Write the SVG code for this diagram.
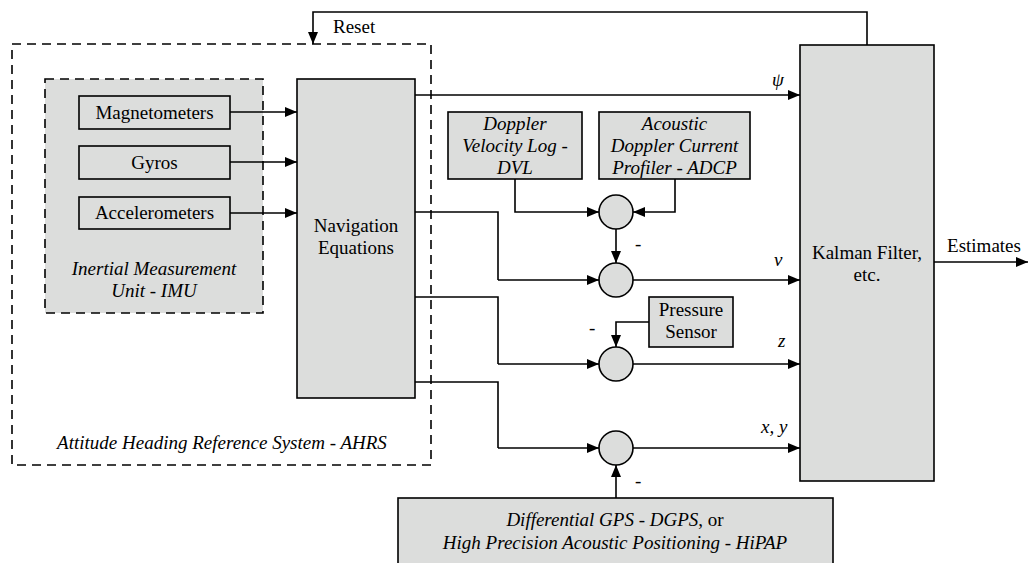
<svg xmlns="http://www.w3.org/2000/svg" width="1028" height="563" viewBox="0 0 1028 563" font-family="'Liberation Serif', Tinos, 'Times New Roman', Times, 'Nimbus Roman', 'DejaVu Serif', serif">
  <defs>
    <marker id="arr" viewBox="0 0 12 10" refX="12" refY="5" markerWidth="12" markerHeight="10" markerUnits="userSpaceOnUse" orient="auto">
      <path d="M0,0 L12,5 L0,10 Z" fill="#000"/>
    </marker>
    <style>
      .box { fill: #dcdddc; stroke: #000; stroke-width: 1.6; }
      .dash { stroke: #000; stroke-width: 1.6; stroke-dasharray: 9 6; }
      .sum { fill: #dcdddc; stroke: #000; stroke-width: 1.6; }
      .ln { fill: none; stroke: #000; stroke-width: 1.6; }
      .ar { fill: none; stroke: #000; stroke-width: 1.6; marker-end: url(#arr); }
      text { font-size: 19px; fill: #000; }
      .c { text-anchor: middle; }
      .i { font-style: italic; }
    </style>
  </defs>

  <rect width="1028" height="563" fill="#fff"/>

  <!-- AHRS frame -->
  <g id="ahrs">
    <rect class="dash" x="12" y="44" width="419" height="421" fill="none"/>
    <text class="c i" x="222" y="449">Attitude Heading Reference System - AHRS</text>
  </g>

  <!-- IMU frame -->
  <g id="imu">
    <rect class="dash" x="45" y="79" width="218" height="234" fill="#dcdddc"/>
    <text class="c i" x="154" y="275">Inertial Measurement</text>
    <text class="c i" x="154" y="297">Unit - IMU</text>
  </g>

  <g id="magnetometers">
    <rect class="box" x="79" y="96" width="151" height="33"/>
    <text class="c" x="154.5" y="119">Magnetometers</text>
  </g>
  <g id="gyros">
    <rect class="box" x="79" y="146" width="151" height="33"/>
    <text class="c" x="154.5" y="169">Gyros</text>
  </g>
  <g id="accelerometers">
    <rect class="box" x="79" y="197" width="151" height="32"/>
    <text class="c" x="154.5" y="219">Accelerometers</text>
  </g>

  <g id="navigation">
    <rect class="box" x="297" y="79" width="118" height="319"/>
    <text class="c" x="356" y="232">Navigation</text>
    <text class="c" x="356" y="254">Equations</text>
  </g>

  <g id="dvl">
    <rect class="box" x="448" y="112" width="134" height="67"/>
    <text class="c i" x="515" y="130">Doppler</text>
    <text class="c i" x="515" y="152">Velocity Log -</text>
    <text class="c i" x="515" y="174">DVL</text>
  </g>
  <g id="adcp">
    <rect class="box" x="599" y="112" width="151" height="67"/>
    <text class="c i" x="674.5" y="130">Acoustic</text>
    <text class="c i" x="674.5" y="152">Doppler Current</text>
    <text class="c i" x="674.5" y="174">Profiler - ADCP</text>
  </g>

  <g id="pressure">
    <rect class="box" x="649" y="297" width="84" height="50"/>
    <text class="c" x="691" y="316">Pressure</text>
    <text class="c" x="691" y="338">Sensor</text>
  </g>

  <g id="positioning">
    <rect class="box" x="398" y="498" width="435" height="80"/>
    <text class="c" x="615" y="526"><tspan class="i">Differential GPS - DGPS</tspan>, or</text>
    <text class="c i" x="615" y="549">High Precision Acoustic Positioning - HiPAP</text>
  </g>

  <g id="kalman">
    <rect class="box" x="800" y="45" width="134" height="436"/>
    <text class="c" x="867" y="259">Kalman Filter,</text>
    <text class="c" x="867" y="281">etc.</text>
  </g>

  <!-- summing junctions -->
  <g id="sum1"><circle class="sum" cx="616" cy="212" r="17"/></g>
  <g id="sum2"><circle class="sum" cx="616" cy="280" r="17"/></g>
  <g id="sum3"><circle class="sum" cx="616" cy="364" r="17"/></g>
  <g id="sum4"><circle class="sum" cx="616" cy="448" r="17"/></g>

  <!-- connectors -->
  <g id="connectors">
    <path class="ar" d="M230,112 H297"/>
    <path class="ar" d="M230,162 H297"/>
    <path class="ar" d="M230,213 H297"/>

    <path class="ar" d="M415,95 H800"/>
    <path class="ln" d="M415,212 H498 V280"/>
    <path class="ar" d="M498,280 H599"/>
    <path class="ln" d="M415,297 H498 V364"/>
    <path class="ar" d="M498,364 H599"/>
    <path class="ln" d="M415,382 H498 V448"/>
    <path class="ar" d="M498,448 H599"/>

    <path class="ar" d="M515,179 V212 H599"/>
    <path class="ar" d="M675,179 V212 H633"/>
    <path class="ar" d="M616,229 V263"/>
    <path class="ar" d="M649,322 H616 V347"/>
    <path class="ar" d="M616,498 V465"/>

    <path class="ar" d="M633,280 H800"/>
    <path class="ar" d="M633,364 H800"/>
    <path class="ar" d="M633,448 H800"/>

    <path class="ar" d="M934,262 H1028"/>
    <path class="ar" d="M867,45 V12 H313 V44"/>
  </g>

  <!-- connector labels -->
  <g id="labels">
    <text x="333" y="33">Reset</text>
    <text class="i" x="772" y="86">ψ</text>
    <text class="i" x="774" y="266">v</text>
    <text class="i" x="778" y="347">z</text>
    <text class="i" x="761" y="433">x, y</text>
    <text class="c" x="984" y="252">Estimates</text>
    <text x="635" y="250">-</text>
    <text x="589" y="334">-</text>
    <text x="635" y="487">-</text>
  </g>
</svg>
